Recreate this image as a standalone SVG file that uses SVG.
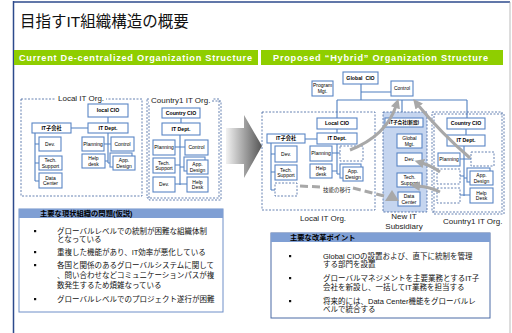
<svg xmlns="http://www.w3.org/2000/svg" width="512" height="333" viewBox="0 0 512 333">
<defs>
<style>
.b{fill:#fff;stroke:#5a86c5;stroke-width:1.1}
.d{fill:#fff;stroke:#3f62a0;stroke-width:0.8;stroke-dasharray:2 1.5}
.dn{fill:none;stroke:#3f62a0;stroke-width:0.8;stroke-dasharray:2 1.5}
.c{fill:none;stroke:#4f7fc0;stroke-width:1.1}
.g{fill:none;stroke:#a8a8a8;stroke-width:3}
.t{font-family:"Liberation Sans","Noto Sans CJK JP",sans-serif;font-size:5px;text-anchor:middle;fill:#000}
.tb{font-family:"Liberation Sans","Noto Sans CJK JP",sans-serif;font-size:5.2px;font-weight:bold;text-anchor:middle;fill:#000}
.lb{font-family:"Liberation Sans","Noto Sans CJK JP",sans-serif;font-size:8px;fill:#222}
.bn{font-family:"Liberation Sans",sans-serif;font-size:9.2px;font-weight:bold;fill:#fff}
.jp{font-family:"Liberation Sans","Noto Sans CJK JP",sans-serif;font-size:7.5px;fill:#111}
.hd{font-family:"Liberation Sans","Noto Sans CJK JP",sans-serif;font-size:7.3px;font-weight:bold;fill:#000}
.bl{fill:#111}
</style>
<linearGradient id="ag" x1="0" y1="0" x2="1" y2="0">
<stop offset="0" stop-color="#f2f2f2"/>
<stop offset="1" stop-color="#555"/>
</linearGradient>
<marker id="ah" viewBox="0 0 10 10" refX="2" refY="5" markerWidth="3.2" markerHeight="3.2" orient="auto" markerUnits="strokeWidth">
<path d="M0 0L10 5L0 10z" fill="#a8a8a8"/>
</marker>
</defs>
<rect width="512" height="333" fill="#fff"/>
<g id="frame">
<line x1="13.5" y1="1" x2="13.5" y2="333" stroke="#2c4a8c" stroke-width="1.5"/>
<line x1="13" y1="2" x2="510" y2="2" stroke="#2c4a8c" stroke-width="1.5"/>
<line x1="510" y1="2" x2="510" y2="333" stroke="#aaa" stroke-width="0.8"/>
</g>
<text x="20" y="27" font-family="Liberation Sans,Noto Sans CJK JP,sans-serif" font-size="15.5" fill="#111">目指すIT組織構造の概要</text>
<g id="banner-current">
<rect x="14" y="50" width="244" height="15" fill="#8fce00"/>
<text class="bn" x="19" y="60.8" textLength="233">Current De-centralized Organization Structure</text>
</g>
<g id="banner-proposed">
<rect x="261" y="50" width="242" height="15" fill="#8fce00"/>
<text class="bn" x="273" y="60.8" textLength="215">Proposed “Hybrid” Organization Structure</text>
</g>

<g id="connectors">
<path class="c" d="M108 117V123M71 128H88M35 133V181M35 144H39M35 163H39M35 181H39M108 133V163M104 144H111M104 161H108M108 163H113"/>
<path class="c" d="M181 118V123M180 135V185M175 147H185M175 165H180M180 167H187M175 184H187"/>
<path class="c" d="M361 84V100M361 92H391M337 100H467M337 100V118M402 100V118M467 100V118"/>
<path class="c" d="M337 129V133M305 139H317M271 143V190M271 154H275M271 172H275M271 190H275M337 144V174M332 153H340M332 171H337M337 174H343"/>
<path class="c" d="M391 127V199M391 141H397M391 159H397M391 180H397M391 199H398"/>
<path class="c" d="M466 129V135M464 146V196M460 159H471M460 176H464M464 178H470M460 195H470"/>
</g>

<g id="big-arrow">
<polygon points="226,128 244,128 244,115 262,146 244,178 244,164 226,164" fill="url(#ag)"/>
</g>

<g id="cur-local-org">
<rect class="dn" x="21" y="99" width="121" height="97"/>
<rect x="55" y="94" width="51" height="9" fill="#fff"/>
<text class="lb" x="58" y="101">Local IT Org.</text>
</g>
<g id="cur-local-cio"><rect class="b" x="88" y="104" width="40" height="13"/><text class="tb" x="108" y="112.3">local CIO</text></g>
<g id="cur-it-sub"><rect class="b" x="32" y="123" width="39" height="10"/><text class="tb" x="51.5" y="129.8">IT子会社</text></g>
<g id="cur-it-dept"><rect class="b" x="88" y="123" width="40" height="10"/><text class="tb" x="108" y="129.8">IT Dept.</text></g>
<g id="cur-dev"><rect class="b" x="39" y="137" width="22" height="14"/><text class="t" x="50" y="145.8">Dev.</text></g>
<g id="cur-tech"><rect class="b" x="39" y="156" width="23" height="14"/><text class="t" x="50.5" y="162.2">Tech.</text><text class="t" x="50.5" y="167.6">Support</text></g>
<g id="cur-dc"><rect class="b" x="39" y="173" width="23" height="15"/><text class="t" x="50.5" y="179.7">Data</text><text class="t" x="50.5" y="185.1">Center</text></g>
<g id="cur-plan"><rect class="b" x="82" y="137" width="22" height="14"/><text class="t" x="93" y="145.8">Planning</text></g>
<g id="cur-ctrl"><rect class="b" x="111" y="137" width="23" height="14"/><text class="t" x="122.5" y="145.8">Control</text></g>
<g id="cur-help"><rect class="b" x="82" y="154" width="23" height="14"/><text class="t" x="93.5" y="160.2">Help</text><text class="t" x="93.5" y="165.6">desk</text></g>
<g id="cur-app"><rect class="b" x="110" y="153" width="22" height="14"/><rect class="b" x="113" y="156" width="22" height="14"/><text class="t" x="124" y="162.2">App.</text><text class="t" x="124" y="167.6">Design</text></g>

<g id="cur-country-org">
<rect class="dn" x="147" y="99" width="72" height="99"/>
<rect class="dn" x="149" y="101" width="72" height="99"/>
<rect x="149" y="95" width="63" height="9" fill="#fff"/>
<text class="lb" x="151" y="103">Country1 IT Org.</text>
</g>
<g id="cur-cty-cio"><rect class="b" x="162" y="108" width="38" height="10"/><text class="tb" x="181" y="114.8">Country CIO</text></g>
<g id="cur-cty-dept"><rect class="b" x="162" y="123" width="38" height="12"/><text class="tb" x="181" y="130.8">IT Dept.</text></g>
<g id="cur-cty-plan"><rect class="b" x="153" y="140" width="22" height="15"/><text class="t" x="164" y="149.3">Planning</text></g>
<g id="cur-cty-ctrl"><rect class="b" x="185" y="140" width="23" height="15"/><text class="t" x="196.5" y="149.3">Control</text></g>
<g id="cur-cty-tech"><rect class="b" x="153" y="158" width="22" height="15"/><text class="t" x="164" y="164.7">Tech.</text><text class="t" x="164" y="170.1">Support</text></g>
<g id="cur-cty-app"><rect class="b" x="184" y="157" width="21" height="14"/><rect class="b" x="187" y="160" width="21" height="14"/><text class="t" x="197.5" y="166.2">App.</text><text class="t" x="197.5" y="171.6">Design</text></g>
<g id="cur-cty-dev"><rect class="b" x="153" y="177" width="22" height="15"/><text class="t" x="164" y="186.3">Dev.</text></g>
<g id="cur-cty-help"><rect class="b" x="187" y="177" width="21" height="15"/><text class="t" x="197.5" y="183.7">Help</text><text class="t" x="197.5" y="189.1">Desk</text></g>

<g id="p-global-cio"><rect class="b" x="343" y="72" width="35" height="12"/><text class="tb" x="360.5" y="79.8" word-spacing="1.5">Global CIO</text></g>
<g id="p-prog"><rect class="b" x="312" y="81" width="21" height="15"/><text class="t" x="322.5" y="87.2">Program</text><text class="t" x="322.5" y="92.6">Mgt.</text></g>
<g id="p-ctrl"><rect class="b" x="391" y="81" width="22" height="15"/><text class="t" x="402" y="90.3">Control</text></g>

<g id="p-local-org">
<rect class="dn" x="262" y="112" width="113" height="98"/>
<text class="lb" x="300" y="221">Local IT Org.</text>
</g>
<g id="p-local-cio"><rect class="b" x="317" y="118" width="40" height="11"/><text class="tb" x="337" y="125.3">Local CIO</text></g>
<g id="p-local-sub"><rect class="b" x="267" y="134" width="38" height="9"/><text class="tb" x="286" y="140.3">IT子会社</text></g>
<g id="p-local-dept"><rect class="b" x="317" y="133" width="40" height="11"/><text class="tb" x="337" y="140.3">IT Dept.</text></g>
<g id="p-local-dev"><rect class="b" x="275" y="146" width="22" height="16"/><text class="t" x="286" y="155.8">Dev.</text></g>
<g id="p-local-tech"><rect class="b" x="275" y="165" width="22" height="15"/><text class="t" x="286" y="171.7">Tech.</text><text class="t" x="286" y="177.1">Support</text></g>
<g id="p-local-e1"><rect class="d" x="275" y="183" width="22" height="13"/></g>
<g id="p-local-plan"><rect class="b" x="310" y="146" width="22" height="15"/><text class="t" x="321" y="155.3">Planning</text></g>
<g id="p-local-help"><rect class="b" x="310" y="164" width="22" height="14"/><text class="t" x="321" y="170.2">Help</text><text class="t" x="321" y="175.6">desk</text></g>
<g id="p-local-e2"><rect class="d" x="340" y="146" width="23" height="15"/></g>
<g id="p-local-app"><rect class="b" x="340" y="164" width="21" height="14"/><rect class="b" x="343" y="167" width="20" height="14"/><text class="t" x="353" y="173.2">App.</text><text class="t" x="353" y="178.6">Design</text></g>

<g id="p-subsidiary">
<rect x="383" y="112" width="44" height="100" fill="#c5d5ef" stroke="#3f62a0" stroke-width="0.8" stroke-dasharray="2 1.5"/>
<text class="lb" x="404" y="219" text-anchor="middle">New IT</text>
<text class="lb" x="404" y="229" text-anchor="middle">Subsidiary</text>
</g>
<g id="p-sub-new"><rect class="b" x="385" y="118" width="38" height="9"/><text class="tb" x="404" y="124.3" style="font-size:4.6px">IT子会社(新設)</text></g>
<g id="p-sub-gm"><rect class="b" x="397" y="134" width="25" height="14"/><text class="t" x="409.5" y="140.2">Global</text><text class="t" x="409.5" y="145.6">Mgt.</text></g>
<g id="p-sub-dev"><rect class="b" x="397" y="153" width="25" height="13"/><text class="t" x="409.5" y="161.3">Dev.</text></g>
<g id="p-sub-tech"><rect class="b" x="397" y="173" width="25" height="14"/><text class="t" x="409.5" y="179.2">Tech.</text><text class="t" x="409.5" y="184.6">Support</text></g>
<g id="p-sub-dc"><rect class="b" x="398" y="192" width="22" height="14"/><text class="t" x="409" y="198.2">Data</text><text class="t" x="409" y="203.6">Center</text></g>

<g id="p-country-org">
<rect class="dn" x="432" y="112" width="70" height="100"/>
<rect class="dn" x="434" y="114" width="70" height="100"/>
<text class="lb" x="443" y="224">Country1 IT Org.</text>
</g>
<g id="p-cty-cio"><rect class="b" x="447" y="118" width="38" height="11"/><text class="tb" x="466" y="125.3">Country CIO</text></g>
<g id="p-cty-dept"><rect class="b" x="447" y="135" width="38" height="11"/><text class="tb" x="466" y="142.3">IT Dept.</text></g>
<g id="p-cty-plan"><rect class="b" x="438" y="153" width="22" height="13"/><text class="t" x="449" y="161.3">Planning</text></g>
<g id="p-cty-e1"><rect class="d" x="471" y="152" width="23" height="14"/></g>
<g id="p-cty-e2"><rect class="d" x="437" y="169" width="23" height="15"/></g>
<g id="p-cty-app"><rect class="b" x="467" y="168" width="23" height="14"/><rect class="b" x="470" y="171" width="23" height="14"/><text class="t" x="481.5" y="177.2">App.</text><text class="t" x="481.5" y="182.6">Design</text></g>
<g id="p-cty-e3"><rect class="d" x="437" y="188" width="23" height="15"/></g>
<g id="p-cty-help"><rect class="b" x="470" y="188" width="23" height="15"/><text class="t" x="481.5" y="194.7">Help</text><text class="t" x="481.5" y="200.1">Desk</text></g>

<g id="gray-arrows">
<path class="g" d="M350 150Q386 136 396 106" marker-end="url(#ah)"/>
<path class="g" d="M470 158Q440 132 418 105" marker-end="url(#ah)"/>
<path class="g" d="M440 172Q432 166 422 163" marker-end="url(#ah)"/>
<path class="g" d="M440 192Q430 187 418 186" marker-end="url(#ah)"/>
<path class="g" d="M300 186L321 187M353 188L384 196" stroke-dasharray="8 4"/>
<polygon points="392,190 399,201 385,201" fill="#a8a8a8"/>
<text x="323" y="192" font-family="Liberation Sans,Noto Sans CJK JP,sans-serif" font-size="5.5" fill="#222">技能の移行</text>
</g>

<g id="problems">
<rect x="19" y="209" width="204" height="103" fill="#fff" stroke="#6f8fc8" stroke-width="1"/>
<rect x="19" y="209" width="204" height="9" fill="#7f9fd4"/>
<text class="hd" x="40" y="216.3">主要な現状組織の問題(仮説)</text>
<rect class="bl" x="34" y="230" width="2.2" height="2.2"/>
<rect class="bl" x="34" y="251" width="2.2" height="2.2"/>
<rect class="bl" x="34" y="264" width="2.2" height="2.2"/>
<rect class="bl" x="34" y="298" width="2.2" height="2.2"/>
<text class="jp" x="57" y="233.8">グローバルレベルでの統制が困難な組織体制</text>
<text class="jp" x="57" y="241.8">となっている</text>
<text class="jp" x="57" y="254.8">重複した機能があり、IT効率が悪化している</text>
<text class="jp" x="57" y="267.8">各国と関係のあるグローバルシステムに関して</text>
<text class="jp" x="57" y="277.8">、問い合わせなどコミュニケーションパスが複</text>
<text class="jp" x="57" y="287.8">数発生するため煩雑なっている</text>
<text class="jp" x="57" y="301.8">グローバルレベルでのプロジェクト遂行が困難</text>
</g>

<g id="reforms">
<rect x="271" y="233" width="219" height="85" fill="#fff" stroke="#4a6aa5" stroke-width="1"/>
<rect x="271" y="233" width="219" height="9" fill="#7f9fd4"/>
<text class="hd" x="290" y="240.3">主要な改革ポイント</text>
<rect class="bl" x="289" y="255" width="2.2" height="2.2"/>
<rect class="bl" x="289" y="277" width="2.2" height="2.2"/>
<rect class="bl" x="289" y="300" width="2.2" height="2.2"/>
<text class="jp" x="323" y="258.8">Global CIOの設置および、直下に統制を管理</text>
<text class="jp" x="323" y="267">する部門を設置</text>
<text class="jp" x="323" y="280.5">グローバルマネジメントを主要業務とするIT子</text>
<text class="jp" x="323" y="289.5">会社を新設し、一括してIT業務を担当する</text>
<text class="jp" x="323" y="303.5">将来的には、Data Center機能をグローバルレ</text>
<text class="jp" x="323" y="312">ベルで統合する</text>
</g>
</svg>
